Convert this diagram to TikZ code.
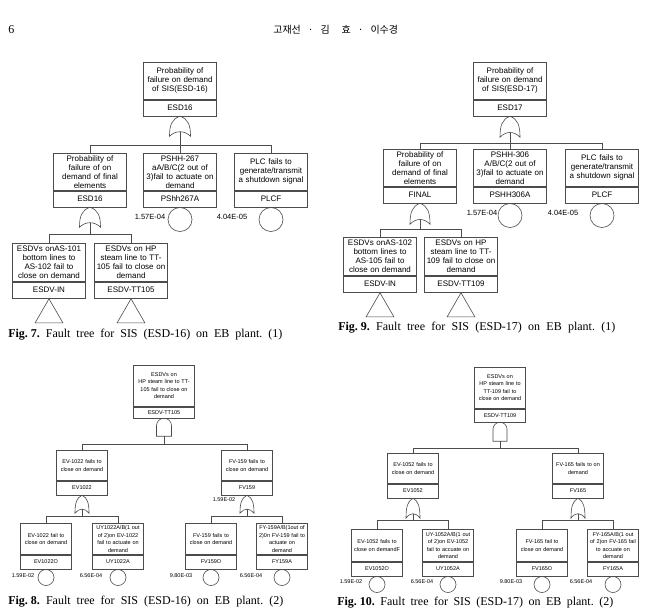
\documentclass[tikz,border=0pt]{standalone}
\usepackage{fontspec}
\setmainfont{Liberation Serif}
\setsansfont{Liberation Sans}
\newfontfamily\krfont{Noto Sans CJK KR}
\usetikzlibrary{positioning,shapes.geometric}
\frenchspacing
\tikzset{
    descbig/.style = {draw=black!70, rectangle, text width=70pt, minimum width=73pt, minimum height=37pt, inner sep=1pt, align=center, anchor=north, font=\sffamily\fontsize{8}{9}\selectfont},
    codebig/.style = {draw=black!70, rectangle, minimum width=73pt, minimum height=16pt, inner sep=0pt, font=\sffamily\fontsize{8}{9}\selectfont},
    descsmall/.style = {draw=black!70, rectangle, text width=49pt, minimum width=51pt, minimum height=31pt, inner sep=1pt, align=center, anchor=north, font=\sffamily\fontsize{5.5}{7.5}\selectfont},
    codesmall/.style = {draw=black!70, rectangle, minimum width=51pt, minimum height=14pt, inner sep=0pt, font=\sffamily\fontsize{5.5}{7.5}\selectfont},
    basic/.style = {draw=black!70, circle, inner sep=0pt, anchor=north},
    transfer/.style = {draw=black!70, regular polygon, regular polygon sides=3, inner sep=0pt, anchor=corner 1},
    prob/.style = {inner sep=0pt, font=\sffamily\fontsize{7.5}{9}\selectfont},
    probsmall/.style = {inner sep=0pt, font=\sffamily\fontsize{5.5}{7}\selectfont},
    caption/.style = {inner sep=0pt, anchor=west, font=\fontsize{12}{14}\selectfont},
    link/.style = {draw=black!70},
    % gates: tip at the pic origin, input at -in
    pics/orgate/.style 2 args = {code={
        \draw[link] (0,0) .. controls (0.4*#1,0.15*#2) and (0.5*#1,0.45*#2) .. (0.5*#1,#2)
            .. controls (0.2*#1,0.7*#2) and (-0.2*#1,0.7*#2) .. (-0.5*#1,#2)
            .. controls (-0.5*#1,0.45*#2) and (-0.4*#1,0.15*#2) .. cycle;
        \coordinate (-in) at (0,0.78*#2);
    }},
    pics/andgate/.style 2 args = {code={
        \draw[link] (-0.5*#1,#2) -- (-0.5*#1,0.5*#1) arc[start angle=180, end angle=360, radius=0.5*#1] -- (0.5*#1,#2) -- cycle;
        \coordinate (-in) at (0,#2);
    }},
}
\newcommand{\figcap}[3]{\makebox[#1][s]{\mbox{\textbf{#2}} #3}}
\begin{document}
\begin{tikzpicture}[x=1pt, y=-1pt, line width=0.6pt]
\path[use as bounding box, fill=white] (0,0) rectangle (652,614);

% Page header
\node[caption] (pagenum) at (8,30) {6};
\node[caption, font=\krfont\fontsize{10}{12}\selectfont] (authors) at (273,30) {고재선\hspace{7pt}·\hspace{7pt}김\hspace{12pt}효\hspace{7pt}·\hspace{7pt}이수경};

% Fig. 7: top event and first level
\node[descbig] (sis16) at (180,62) {Probability of\\failure on demand\\of SIS(ESD-16)};
\node[codebig, below=0pt of sis16] (sis16code) {ESD16};
\pic (or16) at (sis16code.south) {orgate={21}{20}};
\coordinate (bus16) at (180,145);

\node[descbig] (fin16) at (90,153) {Probability of\\failure of on\\demand of final\\elements};
\node[codebig, below=0pt of fin16] (fin16code) {ESD16};
\node[descbig] (pshh267) at (180,153) {PSHH-267\\aA/B/C(2 out of\\3)fail to actuate on\\demand};
\node[codebig, below=0pt of pshh267] (pshh267code) {PShh267A};
\node[descbig] (plc16) at (271,153) {PLC fails to\\generate/transmit\\a shutdown signal};
\node[codebig, below=0pt of plc16] (plc16code) {PLCF};

% Basic events with probabilities
\node[basic, minimum size=24pt] (ev267) at (pshh267code.south) {};
\node[basic, minimum size=24pt] (evplc16) at (plc16code.south) {};
\node[prob] (p267) at (150,217) {1.57E-04};
\node[prob] (pplc16) at (232,217) {4.04E-05};

% Final elements branch
\pic (orfin16) at (fin16code.south) {orgate={21}{20}};
\coordinate (busfin16) at (90,234);
\node[descbig, minimum height=38pt] (esdvin16) at (49,243) {ESDVs onAS-101\\bottom lines to\\AS-102 fail to\\close on demand};
\node[codebig, below=0pt of esdvin16] (esdvin16code) {ESDV-IN};
\node[descbig, minimum height=38pt] (tt105) at (131,243) {ESDVs on HP\\steam line to TT-\\105 fail to close on\\demand};
\node[codebig, below=0pt of tt105] (tt105code) {ESDV-TT105};
\node[transfer, minimum size=32pt] (trin16) at (esdvin16code.south) {};
\node[transfer, minimum size=32pt] (tr105) at (tt105code.south) {};

\draw[link] (or16-in) -- (bus16);
\draw[link] (bus16) -| (fin16.north);
\draw[link] (bus16) -| (pshh267.north);
\draw[link] (bus16) -| (plc16.north);
\draw[link] (orfin16-in) -- (busfin16);
\draw[link] (busfin16) -| (esdvin16.north);
\draw[link] (busfin16) -| (tt105.north);

\node[caption] (cap7) at (8,335) {\figcap{274pt}{Fig. 7.}{Fault tree for SIS (ESD-16) on EB plant. (1)}};

% Fig. 9: top event and first level
\node[descbig] (sis17) at (510,62) {Probability of\\failure on demand\\of SIS(ESD-17)};
\node[codebig, below=0pt of sis17] (sis17code) {ESD17};
\pic (or17) at (sis17code.south) {orgate={20}{21}};
\coordinate (bus17) at (510,143);

\node[descbig] (fin17) at (420,149) {Probability of\\failure of on\\demand of final\\elements};
\node[codebig, below=0pt of fin17] (fin17code) {FINAL};
\node[descbig] (pshh306) at (510,149) {PSHH-306\\A/B/C(2 out of\\3)fail to actuate on\\demand};
\node[codebig, below=0pt of pshh306] (pshh306code) {PSHH306A};
\node[descbig] (plc17) at (602,149) {PLC fails to\\generate/transmit\\a shutdown signal};
\node[codebig, below=0pt of plc17] (plc17code) {PLCF};

% Basic events with probabilities
\node[basic, minimum size=24pt] (ev306) at (pshh306code.south) {};
\node[basic, minimum size=24pt] (evplc17) at (plc17code.south) {};
\node[prob] (p306) at (482,213) {1.57E-04};
\node[prob] (pplc17) at (563,213) {4.04E-05};

% Final elements branch
\pic (orfin17) at (fin17code.south) {orgate={20}{21}};
\coordinate (busfin17) at (420,229);
\node[descbig, minimum height=38pt] (esdvin17) at (380,237) {ESDVs onAS-102\\bottom lines to\\AS-105 fail to\\close on demand};
\node[codebig, below=0pt of esdvin17] (esdvin17code) {ESDV-IN};
\node[descbig, minimum height=38pt] (tt109) at (461,237) {ESDVs on HP\\steam line to TT-\\109 fail to close on\\demand};
\node[codebig, below=0pt of tt109] (tt109code) {ESDV-TT109};
\node[transfer, minimum size=32pt] (trin17) at (esdvin17code.south) {};
\node[transfer, minimum size=32pt] (tr109) at (tt109code.south) {};

\draw[link] (or17-in) -- (bus17);
\draw[link] (bus17) -| (fin17.north);
\draw[link] (bus17) -| (pshh306.north);
\draw[link] (bus17) -| (plc17.north);
\draw[link] (orfin17-in) -- (busfin17);
\draw[link] (busfin17) -| (esdvin17.north);
\draw[link] (busfin17) -| (tt109.north);

\node[caption] (cap9) at (338,328) {\figcap{277pt}{Fig. 9.}{Fault tree for SIS (ESD-17) on EB plant. (1)}};

% Fig. 8: ESDV-TT105 subtree
\node[descsmall, minimum width=61pt, text width=59pt, minimum height=41pt] (top105) at (164,365) {ESDVs on\\HP steam line to TT-\\105 fail to close on\\demand};
\node[codesmall, minimum width=61pt, minimum height=11pt, below=0pt of top105] (top105code) {ESDV-TT105};
\pic (and105) at (top105code.south) {andgate={15}{18}};
\coordinate (bus105) at (164,444);

\node[descsmall, minimum height=30pt] (ev1022) at (82,450) {EV-1022 fails to\\close on demand};
\node[codesmall, below=0pt of ev1022] (ev1022code) {EV1022};
\node[descsmall, minimum height=30pt] (fv159) at (247,450) {FV-159 fails to\\close on demand};
\node[codesmall, below=0pt of fv159] (fv159code) {FV159};

\pic (or1022) at (ev1022code.south) {orgate={14}{18}};
\coordinate (bus1022) at (82,516);
\node[descsmall] (ev1022o) at (46,523) {EV-1022 fail to\\close on demand};
\node[codesmall, below=0pt of ev1022o] (ev1022ocode) {EV1022O};
\node[descsmall] (uy1022a) at (118,523) {UY1022A/B(1 out\\of 2)on EV-1022\\fail to actuate on\\demand};
\node[codesmall, below=0pt of uy1022a] (uy1022acode) {UY1022A};
\node[basic, minimum size=16pt] (bev1022o) at (ev1022ocode.south) {};
\node[basic, minimum size=16pt] (buy1022a) at (uy1022acode.south) {};
\node[probsmall] (p1022o) at (23,576) {1.59E-02};
\node[probsmall] (p1022a) at (91,576) {6.56E-04};

\pic (or159) at (fv159code.south) {orgate={14}{18}};
\node[probsmall] (p159) at (224,500) {1.59E-02};
\coordinate (bus159) at (247,516);
\node[descsmall] (fv159o) at (211,523) {FV-159 fails to\\close on demand};
\node[codesmall, below=0pt of fv159o] (fv159ocode) {FV159O};
\node[descsmall] (fy159a) at (282,523) {FY-159A/B(1out of\\2)0n FV-159 fail to\\actuate on\\demand};
\node[codesmall, below=0pt of fy159a] (fy159acode) {FY159A};
\node[basic, minimum size=16pt] (bfv159o) at (fv159ocode.south) {};
\node[basic, minimum size=16pt] (bfy159a) at (fy159acode.south) {};
\node[probsmall] (p159o) at (181,576) {9.80E-03};
\node[probsmall] (p159a) at (251,576) {6.56E-04};

\draw[link] (and105-in) -- (bus105);
\draw[link] (bus105) -| (ev1022.north);
\draw[link] (bus105) -| (fv159.north);
\draw[link] (or1022-in) -- (bus1022);
\draw[link] (bus1022) -| (ev1022o.north);
\draw[link] (bus1022) -| (uy1022a.north);
\draw[link] (or159-in) -- (bus159);
\draw[link] (bus159) -| (fv159o.north);
\draw[link] (bus159) -| (fy159a.north);

\node[caption] (cap8) at (8,602) {\figcap{275pt}{Fig. 8.}{Fault tree for SIS (ESD-16) on EB plant. (2)}};

% Fig. 10: ESDV-TT109 subtree
\node[descsmall, minimum height=41pt] (top109) at (500,367) {ESDVs on\\HP steam line to\\TT-109 fail to\\close on demand};
\node[codesmall, minimum height=13pt, below=0pt of top109] (top109code) {ESDV-TT109};
\pic (and109) at (top109code.south) {andgate={14}{19}};
\coordinate (bus109) at (500,448);

\node[descsmall, minimum height=30pt] (ev1052) at (413,453) {EV-1052 fails to\\close on demand};
\node[codesmall, below=0pt of ev1052] (ev1052code) {EV1052};
\node[descsmall, minimum height=30pt] (fv165) at (578,453) {FV-165 fails to on\\demand};
\node[codesmall, below=0pt of fv165] (fv165code) {FV165};

\pic (or1052) at (ev1052code.south) {orgate={14}{20}};
\coordinate (bus1052) at (413,520);
\node[descsmall, minimum height=32pt] (ev1052o) at (377,529) {EV-1052 fails to\\close on demandF};
\node[codesmall, below=0pt of ev1052o] (ev1052ocode) {EV1052O};
\node[descsmall, minimum height=32pt] (uy1052a) at (448,529) {UY-1052A/B(1 out\\of 2)on EV-1052\\fail to accuate on\\demand};
\node[codesmall, below=0pt of uy1052a] (uy1052acode) {UY1052A};
\node[basic, minimum size=16pt] (bev1052o) at (ev1052ocode.south) {};
\node[basic, minimum size=16pt] (buy1052a) at (uy1052acode.south) {};
\node[probsmall] (p1052o) at (351,582) {1.59E-02};
\node[probsmall] (p1052a) at (422,582) {6.56E-04};

\pic (or165) at (fv165code.south) {orgate={14}{20}};
\coordinate (bus165) at (578,520);
\node[descsmall, minimum height=32pt] (fv165o) at (542,529) {FV-165 fail to\\close on demand};
\node[codesmall, below=0pt of fv165o] (fv165ocode) {FV165O};
\node[descsmall, minimum height=32pt] (fy165a) at (613,529) {FY-165A/B(1 out\\of 2)on FV-165 fail\\to accuate on\\demand};
\node[codesmall, below=0pt of fy165a] (fy165acode) {FY165A};
\node[basic, minimum size=16pt] (bfv165o) at (fv165ocode.south) {};
\node[basic, minimum size=16pt] (bfy165a) at (fy165acode.south) {};
\node[probsmall] (p165o) at (511,582) {9.80E-03};
\node[probsmall] (p165a) at (581,582) {6.56E-04};

\draw[link] (and109-in) -- (bus109);
\draw[link] (bus109) -| (ev1052.north);
\draw[link] (bus109) -| (fv165.north);
\draw[link] (or1052-in) -- (bus1052);
\draw[link] (bus1052) -| (ev1052o.north);
\draw[link] (bus1052) -| (uy1052a.north);
\draw[link] (or165-in) -- (bus165);
\draw[link] (bus165) -| (fv165o.north);
\draw[link] (bus165) -| (fy165a.north);

\node[caption] (cap10) at (337,603) {\figcap{276pt}{Fig. 10.}{Fault tree for SIS (ESD-17) on EB plant. (2)}};

\end{tikzpicture}
\end{document}
